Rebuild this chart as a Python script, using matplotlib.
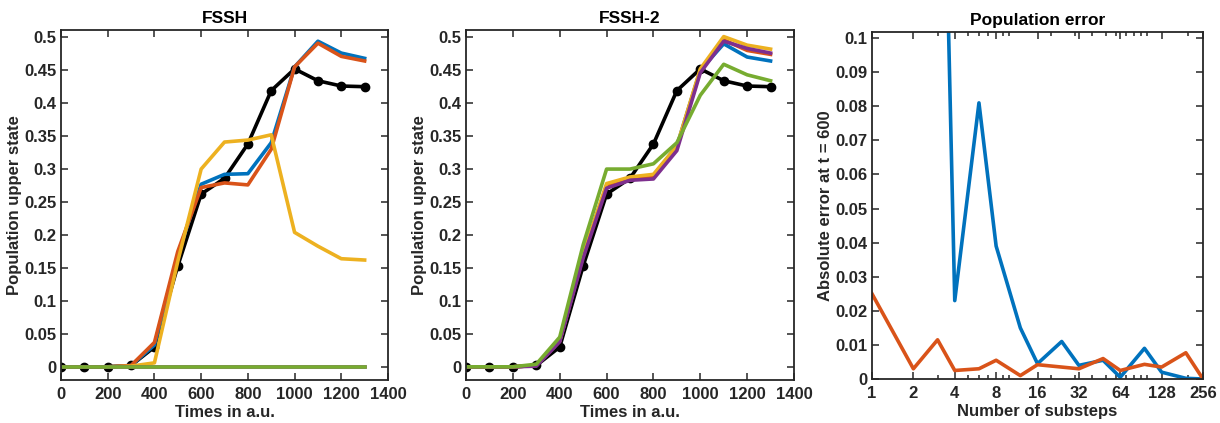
import matplotlib
matplotlib.use("Agg")
import matplotlib.pyplot as plt
from matplotlib.ticker import FixedLocator, FixedFormatter, NullFormatter

plt.rcParams['font.family'] = ['Liberation Sans', 'DejaVu Sans']
plt.rcParams['font.weight'] = 'bold'
plt.rcParams['axes.labelweight'] = 'bold'
plt.rcParams['axes.titleweight'] = 'bold'

# ---- data ----
times = [0, 100, 200, 300, 400, 500, 600, 700, 800, 900, 1000, 1100, 1200, 1300]
exact = [0, 0, 0, 0.002, 0.030, 0.153, 0.262, 0.286, 0.338, 0.419, 0.452, 0.434, 0.426, 0.425]

fssh_blue   = [0, 0, 0, 0.002, 0.033, 0.170, 0.277, 0.292, 0.293, 0.340, 0.455, 0.494, 0.476, 0.468]
fssh_orange = [0, 0, 0, 0.002, 0.037, 0.175, 0.272, 0.279, 0.276, 0.330, 0.455, 0.491, 0.471, 0.464]
fssh_yellow = [0, 0, 0, 0.001, 0.006, 0.160, 0.300, 0.341, 0.344, 0.352, 0.204, 0.183, 0.164, 0.162]
fssh_purple = [0, 0, 0, 0.000, 0.000, 0.000, 0.000, 0.000, 0.000, 0.000, 0.000, 0.000, 0.000, 0.000]
fssh_green  = [0, 0, 0, 0.000, 0.000, 0.000, 0.000, 0.000, 0.000, 0.000, 0.000, 0.000, 0.000, 0.000]

fssh2_blue   = [0, 0, 0, 0.002, 0.040, 0.170, 0.275, 0.287, 0.290, 0.335, 0.450, 0.490, 0.470, 0.464]
fssh2_orange = [0, 0, 0, 0.002, 0.039, 0.168, 0.274, 0.285, 0.288, 0.332, 0.449, 0.496, 0.480, 0.474]
fssh2_yellow = [0, 0, 0, 0.002, 0.040, 0.170, 0.278, 0.288, 0.292, 0.335, 0.452, 0.501, 0.488, 0.482]
fssh2_purple = [0, 0, 0, 0.001, 0.038, 0.165, 0.271, 0.283, 0.285, 0.328, 0.446, 0.494, 0.483, 0.476]
fssh2_green  = [0, 0, 0, 0.004, 0.045, 0.185, 0.300, 0.300, 0.308, 0.340, 0.412, 0.459, 0.443, 0.434]

substeps  = [1, 2, 3, 4, 6, 8, 12, 16, 24, 32, 48, 64, 96, 128, 192, 256]
err_blue  = [0.5, 0.4, 0.2425, 0.023, 0.081, 0.039, 0.015, 0.0045, 0.011, 0.004, 0.0055, 0.0005, 0.009, 0.002, 0.0002, 0.0]
err_orange = [0.025, 0.003, 0.0115, 0.0025, 0.003, 0.0055, 0.001, 0.0042, 0.0035, 0.003, 0.006, 0.0025, 0.0043, 0.0035, 0.0077, 0.0]

pop_yticks = [0, 0.05, 0.1, 0.15, 0.2, 0.25, 0.3, 0.35, 0.4, 0.45, 0.5]
pop_ylabels = ['0', '0.05', '0.1', '0.15', '0.2', '0.25', '0.3', '0.35', '0.4', '0.45', '0.5']
time_xticks = [0, 200, 400, 600, 800, 1000, 1200, 1400]
err_yticks = [0, 0.01, 0.02, 0.03, 0.04, 0.05, 0.06, 0.07, 0.08, 0.09, 0.1]
err_ylabels = ['0', '0.01', '0.02', '0.03', '0.04', '0.05', '0.06', '0.07', '0.08', '0.09', '0.1']
sub_xticks = [1, 2, 4, 8, 16, 32, 64, 128, 256]
sub_minor = [3, 5, 6, 7, 9, 10, 20, 30, 40, 50, 60, 70, 80, 90, 100, 200]

C_BLUE = '#0072BD'
C_ORANGE = '#D95319'
C_YELLOW = '#EDB120'
C_PURPLE = '#7E2F8E'
C_GREEN = '#77AC30'
AX_COL = '#262626'
LW = 2.6
TICK_FS = 12
LABEL_FS = 12
TITLE_FS = 12.5

fig = plt.figure(figsize=(12.2, 4.23), dpi=100)
W, H = 1220, 423

def add_ax(l, r, t, b):
    return fig.add_axes([l / W, 1 - b / H, (r - l) / W, (b - t) / H])

ax1 = add_ax(61, 388, 30, 380)
ax2 = add_ax(466, 794, 30, 380)
ax3 = add_ax(872, 1203, 32, 379)

def style(ax):
    for s in ax.spines.values():
        s.set_color(AX_COL)
        s.set_linewidth(1.3)
    ax.tick_params(which='both', direction='in', top=True, right=True,
                   colors=AX_COL, labelsize=TICK_FS, width=1.1)
    ax.tick_params(which='major', length=5)
    ax.tick_params(which='minor', length=3)
    ax.tick_params(axis='x', pad=5)
    ax.tick_params(axis='y', pad=3)
    for lab in ax.get_xticklabels() + ax.get_yticklabels():
        lab.set_fontweight('bold')

def pop_panel(ax, series, title):
    ax.plot(times, exact, color='black', lw=LW, marker='o', ms=6)
    for y, c in series:
        ax.plot(times, y, color=c, lw=LW)
    ax.set_xlim(0, 1400)
    ax.set_ylim(-0.02, 0.511)
    ax.set_xticks(time_xticks)
    ax.set_yticks(pop_yticks)
    ax.set_yticklabels(pop_ylabels)
    ax.set_title(title, fontsize=TITLE_FS, fontweight='bold', color='black', pad=5)
    ax.set_xlabel('Times in a.u.', fontsize=LABEL_FS, color=AX_COL, labelpad=2)
    ax.set_ylabel('Population upper state', fontsize=LABEL_FS, color=AX_COL, labelpad=2)
    style(ax)

pop_panel(ax1, [(fssh_blue, C_BLUE), (fssh_orange, C_ORANGE), (fssh_yellow, C_YELLOW),
                (fssh_purple, C_PURPLE), (fssh_green, C_GREEN)], 'FSSH')
pop_panel(ax2, [(fssh2_blue, C_BLUE), (fssh2_orange, C_ORANGE), (fssh2_yellow, C_YELLOW),
                (fssh2_purple, C_PURPLE), (fssh2_green, C_GREEN)], 'FSSH-2')

ax3.plot(substeps, err_blue, color=C_BLUE, lw=LW)
ax3.plot(substeps, err_orange, color=C_ORANGE, lw=LW)
ax3.set_xscale('log', base=2)
ax3.set_xlim(1, 256)
ax3.set_ylim(0, 0.1018)
ax3.xaxis.set_major_locator(FixedLocator(sub_xticks))
ax3.xaxis.set_major_formatter(FixedFormatter([str(v) for v in sub_xticks]))
ax3.xaxis.set_minor_locator(FixedLocator(sub_minor))
ax3.xaxis.set_minor_formatter(NullFormatter())
ax3.set_yticks(err_yticks)
ax3.set_yticklabels(err_ylabels)
ax3.set_title('Population error', fontsize=TITLE_FS, fontweight='bold', color='black', pad=5)
ax3.set_xlabel('Number of substeps', fontsize=LABEL_FS, color=AX_COL, labelpad=2)
ax3.set_ylabel('Absolute error at t = 600', fontsize=LABEL_FS, color=AX_COL, labelpad=2)
style(ax3)

fig.savefig('out.png', dpi=100)
